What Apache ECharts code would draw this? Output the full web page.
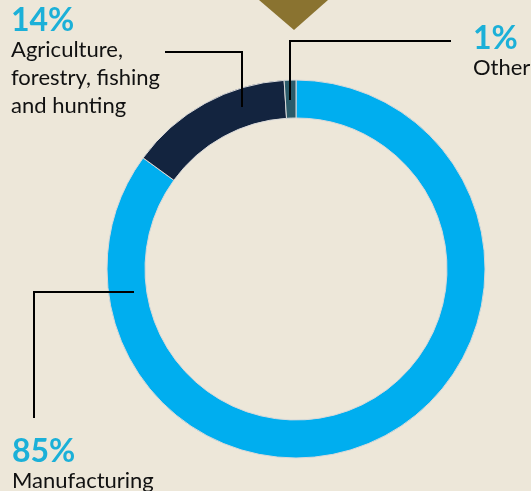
<!DOCTYPE html>
<html>
<head>
<meta charset="utf-8">
<script src="https://cdn.jsdelivr.net/npm/echarts@6/dist/echarts.min.js"></script>
<style>
html,body{margin:0;padding:0;background:#EDE7D9;}
#c{width:531px;height:491px;}
</style>
</head>
<body>
<div id="c"></div>
<script>
const categories = ['Manufacturing', 'Agriculture,\nforestry, fishing\nand hunting', 'Other'];
const values = [85, 14, 1];
const colors = ['#00AEEF', '#13243F', '#2B5B6A'];

// annotation placement (label box top-left and leader line path)
const labelSpots = [
  { x: 12, y: 437, line: [[134, 292], [34, 292], [34, 418]] },
  { x: 11, y: 6, line: [[242, 107], [242, 52], [165, 52]] },
  { x: 473, y: 24, line: [[290, 100], [290, 41], [451, 41]] }
];

const chart = echarts.init(document.getElementById('c'), null, { renderer: 'canvas' });
chart.setOption({
  backgroundColor: '#EDE7D9',
  animation: false,
  graphic: [{
    type: 'polygon',
    shape: { points: [[259, 0], [328, 0], [294, 30]] },
    style: { fill: '#8A7330' }
  }].concat(labelSpots.map(s => ({
    type: 'polyline',
    z: 100,
    silent: true,
    shape: { points: s.line },
    style: { stroke: '#000000', lineWidth: 2, fill: null }
  }))),
  series: [{
    type: 'pie',
    center: [296, 269],
    radius: [151, 189],
    startAngle: 90,
    clockwise: true,
    silent: true,
    data: categories.map((c, i) => ({ name: c, value: values[i], itemStyle: { color: colors[i] } })),
    itemStyle: { borderColor: '#D9D9D9', borderWidth: 1 },
    label: {
      show: true,
      position: 'outside',
      overflow: 'none',
      formatter: p => '{p|' + p.value + '%}\n{n|' + p.name + '}',
      rich: {
        p: { fontFamily: 'Lato', fontWeight: 'bold', fontSize: 32, color: '#1BB0D8', lineHeight: 30 },
        n: { fontFamily: 'Lato', fontSize: 22, color: '#111111', lineHeight: 28 }
      },
      align: 'left'
    },
    labelLine: { show: false },
    labelLayout: function (params) {
      const s = labelSpots[params.dataIndex];
      return { x: s.x, y: s.y, align: 'left', verticalAlign: 'top' };
    }
  }]
});
</script>
</body>
</html>
